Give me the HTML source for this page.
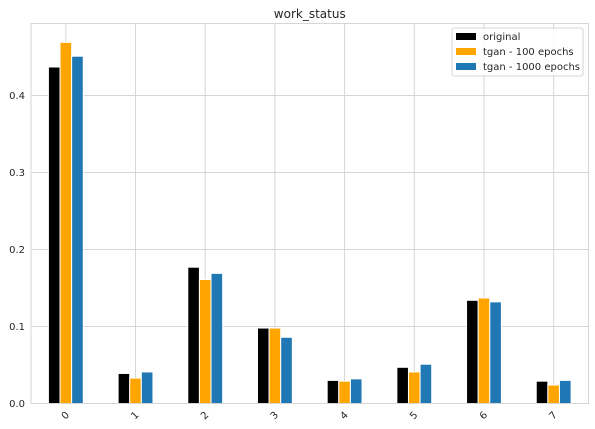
<!DOCTYPE html>
<html><head><meta charset="utf-8"><style>
body{margin:0;background:#fff;}
svg{display:block;font-family:"DejaVu Sans","Liberation Sans",sans-serif;}
</style></head><body>
<svg id="chart" width="595" height="429" xmlns="http://www.w3.org/2000/svg"></svg>
<script>
const categories=["0","1","2","3","4","5","6","7"];
const seriesNames=["original","tgan - 100 epochs","tgan - 1000 epochs"];
const original=[0.437,0.039,0.177,0.098,0.030,0.047,0.134,0.029];
const tgan100=[0.469,0.033,0.161,0.098,0.029,0.041,0.137,0.024];
const tgan1000=[0.451,0.041,0.169,0.086,0.032,0.051,0.132,0.030];
const yTicks=[0,0.1,0.2,0.3,0.4];
const yTickLabels=["0.0","0.1","0.2","0.3","0.4"];

const colors=["#000000","#ffa500","#1f77b4"];
const L=31,R=588.5,T=23.5,B=403.5,YMAX=0.4935;
const svg=document.getElementById('chart');
const NS="http://www.w3.org/2000/svg";
function mk(t,a,p){const e=document.createElementNS(NS,t);for(const k in a)e.setAttribute(k,a[k]);(p||svg).appendChild(e);return e;}
const step=(R-L)/categories.length;
function xs(i){return L+step*(i+0.5);}
function ys(v){return B-(v/YMAX)*(B-T);}

const title=mk('text',{x:(L+R)/2,y:18,'text-anchor':'middle','font-size':12,fill:'#262626'});
title.textContent='work_status';



yTicks.forEach((v,i)=>{
  const g=mk('line',{x1:L,x2:R,y1:ys(v),y2:ys(v),stroke:'#d6d6d6','stroke-width':1});
  
  
  const t=mk('text',{x:L-6,y:ys(v)+3.5,'text-anchor':'end','font-size':10,fill:'#262626'});
  t.textContent=yTickLabels[i];
  
  
});
categories.forEach((c,i)=>{
  const g=mk('line',{x1:xs(i),x2:xs(i),y1:T,y2:B,stroke:'#d6d6d6','stroke-width':1});
  
  
  const t=mk('text',{x:0,y:0,'text-anchor':'end','font-size':10,fill:'#262626',transform:`translate(${xs(i)+4},${B+12}) rotate(-45)`});
  t.textContent=c;
  
  
});
const series=[original,tgan100,tgan1000];
const bw=step*0.5/3;
series.forEach((vals,s)=>{
  vals.forEach((v,i)=>{
    const x=xs(i)-step*0.25+s*bw;
    const r=mk('rect',{x:x,y:ys(v),width:bw,height:ys(0)-ys(v),fill:colors[s],stroke:'#fff','stroke-width':1});
    
    
  });
});
const frame=mk('rect',{x:L,y:T,width:R-L,height:B-T,fill:'none',stroke:'#d6d6d6','stroke-width':1});



const lg=mk('g',{});


mk('rect',{x:452,y:28,width:131,height:48,fill:'#fff','fill-opacity':0.8,stroke:'#d6d6d6',rx:2},lg);
seriesNames.forEach((n,s)=>{
  const y=36+s*15;
  const sw=mk('rect',{x:456,y:y-3,width:20,height:7,fill:colors[s]},lg);
  
  
  const t=mk('text',{x:483,y:y+4,'font-size':10,fill:'#262626'},lg);
  t.textContent=n;
  
  
});
</script>
</body></html>
